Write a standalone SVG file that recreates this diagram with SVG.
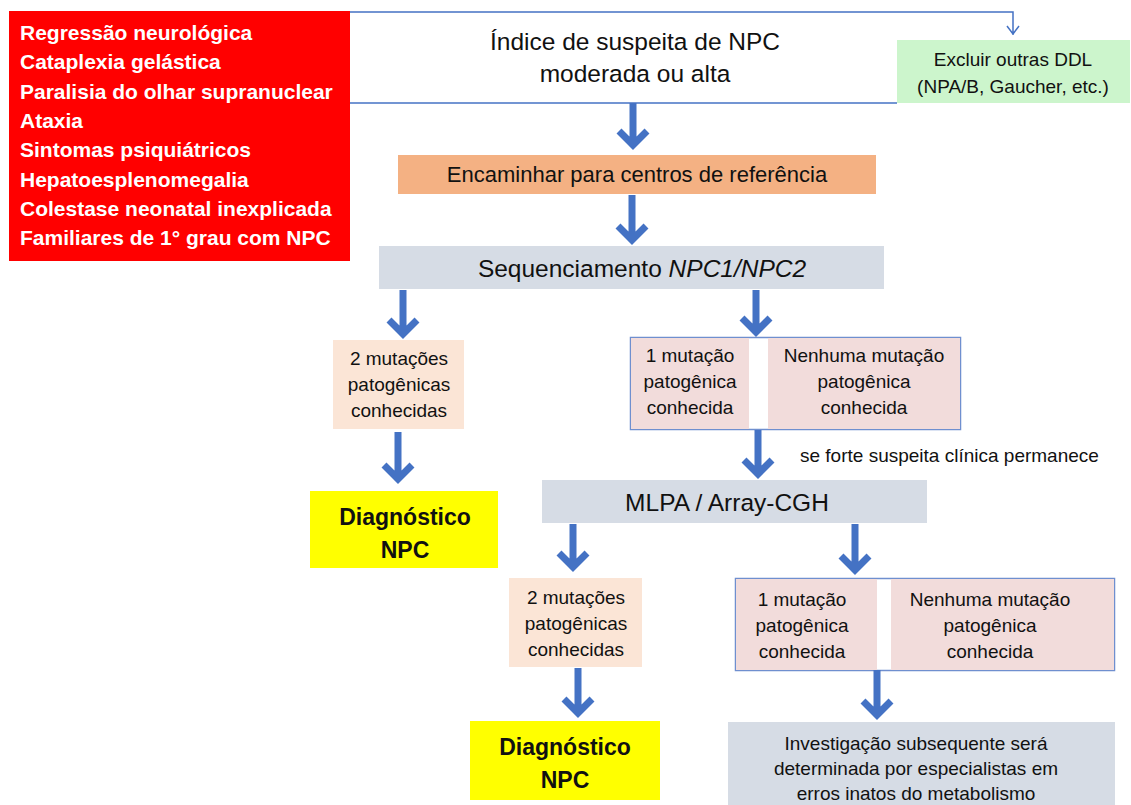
<svg xmlns="http://www.w3.org/2000/svg" width="1131" height="805" viewBox="0 0 1131 805">
<style>
text{font-family:"Liberation Sans","Open Sans",Arial,sans-serif;fill:#111}
.w{fill:#fff;font-weight:bold;font-size:21px}
.t22{font-size:24.5px;text-anchor:middle}
.t17{font-size:19px;text-anchor:middle}
.b{font-size:23px;font-weight:bold;text-anchor:middle}
.arr{fill:none;stroke:#4472C4;stroke-width:7}
.thin{fill:none;stroke:#4472C4;stroke-width:1.5}
</style>
<rect width="1131" height="805" fill="#fff"/>
<g id="criteria">
<rect x="9" y="11" width="341" height="250" fill="#FF0000"/>
<text class="w" x="20" y="40">Regressão neurológica</text>
<text class="w" x="20" y="69">Cataplexia gelástica</text>
<text class="w" x="20" y="99">Paralisia do olhar supranuclear</text>
<text class="w" x="20" y="128">Ataxia</text>
<text class="w" x="20" y="157">Sintomas psiquiátricos</text>
<text class="w" x="20" y="187">Hepatoesplenomegalia</text>
<text class="w" x="20" y="216">Colestase neonatal inexplicada</text>
<text class="w" x="20" y="245">Familiares de 1° grau com NPC</text>
</g>
<g id="suspicion">
<text class="t22" x="635" y="50">Índice de suspeita de NPC</text>
<text class="t22" x="635" y="82">moderada ou alta</text>
</g>
<g id="exclude">
<rect x="897" y="40" width="233" height="63" fill="#CCF5CC"/>
<text class="t17" x="1013" y="66">Excluir outras DDL</text>
<text class="t17" x="1013" y="93">(NPA/B, Gaucher, etc.)</text>
</g>
<g id="refer">
<rect x="398" y="155" width="478" height="39" fill="#F4B183"/>
<text class="t22" x="637" y="182" style="font-size:22px">Encaminhar para centros de referência</text>
</g>
<g id="seq">
<rect x="379" y="246" width="505" height="43" fill="#D6DCE5"/>
<text class="t22" x="642" y="277">Sequenciamento <tspan font-style="italic">NPC1/NPC2</tspan></text>
</g>
<g id="two1">
<rect x="333" y="340" width="131" height="89" fill="#FBE5D6"/>
<text class="t17" x="399" y="365">2 mutações</text>
<text class="t17" x="399" y="391">patogênicas</text>
<text class="t17" x="399" y="417">conhecidas</text>
</g>
<g id="diag1">
<rect x="310" y="491" width="188" height="77" fill="#FFFF00"/>
<text class="b" x="405" y="525">Diagnóstico</text>
<text class="b" x="405" y="558">NPC</text>
</g>
<g id="one1">
<rect x="630.5" y="337.5" width="330" height="92" fill="#fff" stroke="#6F8FCF" stroke-width="1.5"/>
<rect x="631" y="338" width="118" height="91" fill="#F2DCDB"/>
<rect x="768" y="338" width="192" height="91" fill="#F2DCDB"/>
<text class="t17" x="690" y="362">1 mutação</text>
<text class="t17" x="690" y="388">patogênica</text>
<text class="t17" x="690" y="414">conhecida</text>
<text class="t17" x="864" y="362">Nenhuma mutação</text>
<text class="t17" x="864" y="388">patogênica</text>
<text class="t17" x="864" y="414">conhecida</text>
</g>
<g id="mlpa">
<rect x="542" y="480" width="385" height="43" fill="#D6DCE5"/>
<text class="t22" x="727" y="511">MLPA / Array-CGH</text>
</g>
<g id="two2">
<rect x="509" y="578" width="133" height="89" fill="#FBE5D6"/>
<text class="t17" x="576" y="604">2 mutações</text>
<text class="t17" x="576" y="630">patogênicas</text>
<text class="t17" x="576" y="656">conhecidas</text>
</g>
<g id="diag2">
<rect x="470" y="721" width="190" height="79" fill="#FFFF00"/>
<text class="b" x="565" y="755">Diagnóstico</text>
<text class="b" x="565" y="788">NPC</text>
</g>
<g id="one2">
<rect x="735.5" y="578.5" width="379" height="92" fill="#fff" stroke="#6F8FCF" stroke-width="1.5"/>
<rect x="736" y="579" width="141" height="91" fill="#F2DCDB"/>
<rect x="891" y="579" width="223" height="91" fill="#F2DCDB"/>
<text class="t17" x="802" y="606">1 mutação</text>
<text class="t17" x="802" y="632">patogênica</text>
<text class="t17" x="802" y="658">conhecida</text>
<text class="t17" x="990" y="606">Nenhuma mutação</text>
<text class="t17" x="990" y="632">patogênica</text>
<text class="t17" x="990" y="658">conhecida</text>
</g>
<g id="further">
<rect x="728" y="722" width="387" height="83" fill="#D6DCE5"/>
<text class="t17" x="916" y="750">Investigação subsequente será</text>
<text class="t17" x="916" y="775">determinada por especialistas em</text>
<text class="t17" x="916" y="800">erros inatos do metabolismo</text>
</g>
<g id="connectors">
<path class="thin" d="M350 12 H1013 V35 M1007 26 L1013 34 L1019 26"/>
<path class="thin" d="M350 103 H897"/>
<path class="arr" d="M633 103 V145 M619 131 L633 145 L647 131"/>
<path class="arr" d="M632 195 V240 M618 226 L632 240 L646 226"/>
<path class="arr" d="M403 290 V334 M389 320 L403 334 L417 320"/>
<path class="arr" d="M756 290 V332 M742 318 L756 332 L770 318"/>
<path class="arr" d="M398 432 V479 M384 465 L398 479 L412 465"/>
<path class="arr" d="M758 430 V474 M744 460 L758 474 L772 460"/>
<path class="arr" d="M573 524 V567 M559 553 L573 567 L587 553"/>
<path class="arr" d="M855 524 V570 M841 556 L855 570 L869 556"/>
<path class="arr" d="M578 668 V713 M564 699 L578 713 L592 699"/>
<path class="arr" d="M877 670 V715 M863 701 L877 715 L891 701"/>
<text x="800" y="462" style="font-size:19px">se forte suspeita clínica permanece</text>
</g>
</svg>
